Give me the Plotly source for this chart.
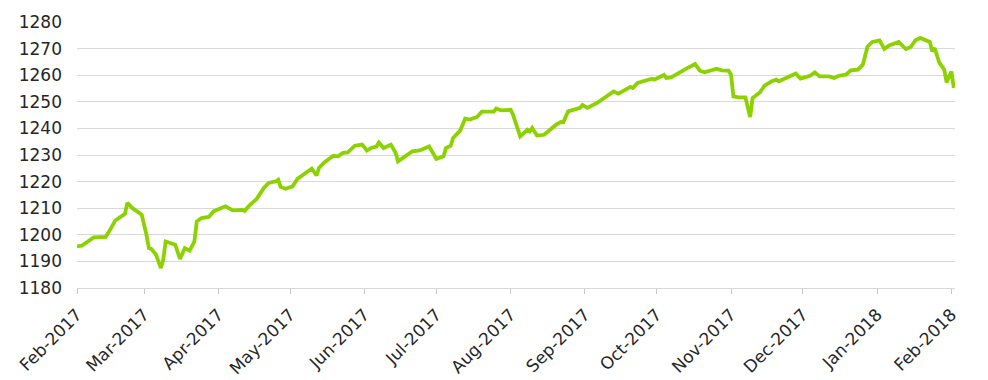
import plotly.graph_objects as go

dates = [
    "2017-02-01", "2017-02-03", "2017-02-08", "2017-02-13", "2017-02-15", "2017-02-17",
    "2017-02-21", "2017-02-22", "2017-02-24", "2017-02-28", "2017-03-02", "2017-03-03",
    "2017-03-04", "2017-03-06", "2017-03-08", "2017-03-09", "2017-03-10", "2017-03-14",
    "2017-03-16", "2017-03-18", "2017-03-20", "2017-03-22", "2017-03-23", "2017-03-25",
    "2017-03-28", "2017-03-30", "2017-03-31", "2017-04-02", "2017-04-04", "2017-04-07",
    "2017-04-11", "2017-04-12", "2017-04-14", "2017-04-17", "2017-04-20", "2017-04-22",
    "2017-04-25", "2017-04-26", "2017-04-27", "2017-04-29", "2017-05-02", "2017-05-04",
    "2017-05-10", "2017-05-12", "2017-05-13", "2017-05-15", "2017-05-19", "2017-05-21",
    "2017-05-23", "2017-05-25", "2017-05-28", "2017-05-31", "2017-06-02", "2017-06-04",
    "2017-06-06", "2017-06-07", "2017-06-09", "2017-06-12", "2017-06-14", "2017-06-15",
    "2017-06-18", "2017-06-21", "2017-06-24", "2017-06-28", "2017-07-01", "2017-07-04",
    "2017-07-05", "2017-07-07", "2017-07-08", "2017-07-11", "2017-07-13", "2017-07-15",
    "2017-07-18", "2017-07-20", "2017-07-25", "2017-07-26", "2017-07-28", "2017-08-01",
    "2017-08-02", "2017-08-04", "2017-08-05", "2017-08-08", "2017-08-09", "2017-08-10",
    "2017-08-12", "2017-08-15", "2017-08-18", "2017-08-20", "2017-08-22", "2017-08-23",
    "2017-08-25", "2017-08-28", "2017-08-30", "2017-08-31", "2017-09-02", "2017-09-06",
    "2017-09-08", "2017-09-11", "2017-09-13", "2017-09-15", "2017-09-18", "2017-09-20",
    "2017-09-21", "2017-09-23", "2017-09-29", "2017-09-30", "2017-10-04", "2017-10-05",
    "2017-10-07", "2017-10-12", "2017-10-13", "2017-10-17", "2017-10-19", "2017-10-21",
    "2017-10-26", "2017-10-28", "2017-10-31", "2017-11-01", "2017-11-02", "2017-11-04",
    "2017-11-07", "2017-11-09", "2017-11-10", "2017-11-13", "2017-11-15", "2017-11-18",
    "2017-11-20", "2017-11-21", "2017-11-24", "2017-11-28", "2017-11-30", "2017-12-04",
    "2017-12-06", "2017-12-08", "2017-12-12", "2017-12-14", "2017-12-16", "2017-12-19",
    "2017-12-21", "2017-12-24", "2017-12-26", "2017-12-28", "2017-12-30", "2018-01-02",
    "2018-01-04", "2018-01-06", "2018-01-10", "2018-01-13", "2018-01-15", "2018-01-17",
    "2018-01-19", "2018-01-23", "2018-01-24", "2018-01-25", "2018-01-27", "2018-01-29",
    "2018-01-30", "2018-02-01", "2018-02-02",
]

values = [
    1195.6, 1195.9, 1199.0, 1199.2, 1202.2, 1205.4,
    1207.9, 1212.0, 1210.1, 1207.6, 1200.0, 1195.0,
    1194.7, 1192.5, 1187.5, 1190.6, 1197.5, 1196.3,
    1190.9, 1195.0, 1194.0, 1197.5, 1205.0, 1206.3,
    1206.7, 1208.8, 1209.2, 1210.1, 1210.7, 1209.2,
    1209.4, 1209.0, 1211.1, 1213.5, 1217.6, 1219.5,
    1220.1, 1220.7, 1218.0, 1217.3, 1218.2, 1221.0,
    1224.9, 1222.3, 1225.1, 1227.0, 1229.7, 1229.5,
    1230.8, 1231.0, 1233.5, 1233.9, 1231.7, 1232.75,
    1233.2, 1234.7, 1232.6, 1233.9, 1230.8, 1227.6,
    1229.7, 1231.4, 1231.7, 1233.2, 1228.5, 1229.5,
    1232.6, 1233.5, 1236.4, 1239.25, 1243.65, 1243.3,
    1244.3, 1246.3, 1246.3, 1247.5, 1246.8, 1247.0,
    1245.15, 1238.9, 1237.0, 1239.5, 1238.9, 1240.15,
    1237.3, 1237.6, 1239.8, 1241.4, 1242.4, 1242.3,
    1246.4, 1247.3, 1247.7, 1248.8, 1247.7, 1249.55,
    1250.8, 1252.3, 1253.9, 1253.05, 1254.8, 1255.6,
    1255.2, 1257.1, 1258.7, 1258.3, 1260.1, 1258.95,
    1259.2, 1262.1, 1262.3, 1264.2, 1261.7, 1261.1,
    1262.45, 1261.8, 1261.7, 1260.2, 1252.0, 1251.7,
    1251.7, 1244.3, 1251.4, 1253.5, 1256.1, 1257.7,
    1258.3, 1257.7, 1258.95, 1260.6, 1258.7, 1259.8,
    1261.05, 1259.55, 1259.55, 1258.95, 1259.8, 1260.2,
    1261.8, 1262.1, 1263.95, 1270.8, 1272.5, 1273.1,
    1269.85, 1271.2, 1272.5, 1269.85, 1270.6, 1273.1,
    1274.0, 1272.5, 1268.95, 1270.2, 1264.6, 1262.1,
    1257.3, 1261.4, 1255.2,
]

tick_dates = [
    "2017-02-01", "2017-03-01", "2017-04-01", "2017-05-01", "2017-06-01", "2017-07-01",
    "2017-08-01", "2017-09-01", "2017-10-01", "2017-11-01", "2017-12-01", "2018-01-01",
    "2018-02-01",
]
tick_labels = [
    "Feb-2017", "Mar-2017", "Apr-2017", "May-2017", "Jun-2017", "Jul-2017",
    "Aug-2017", "Sep-2017", "Oct-2017", "Nov-2017", "Dec-2017", "Jan-2018",
    "Feb-2018",
]
y_ticks = [1180, 1190, 1200, 1210, 1220, 1230, 1240, 1250, 1260, 1270, 1280]

fig = go.Figure()
fig.add_trace(go.Scatter(
    x=dates, y=values, mode="lines",
    line=dict(color="#8cd200", width=3.8, shape="linear"),
    showlegend=False,
))

font = dict(family="DejaVu Sans, sans-serif", size=17, color="#262626")

fig.update_layout(
    width=988, height=380,
    margin=dict(l=77, r=33, t=22, b=92, pad=0, autoexpand=False),
    paper_bgcolor="white", plot_bgcolor="white",
    font=font,
    xaxis=dict(
        type="date", automargin=False,
        range=["2017-02-01", "2018-02-02 12:00"],
        tickmode="array", tickvals=tick_dates, ticktext=tick_labels,
        tickangle=-45, tickfont=font,
        showgrid=False, zeroline=False,
        showline=True, linecolor="#d9d9d9", linewidth=1,
        ticks="outside", ticklen=5, tickcolor="#c8c8c8", tickwidth=1,
        ticklabelstandoff=4,
    ),
    yaxis=dict(
        range=[1180, 1280], automargin=False,
        tickmode="array", tickvals=y_ticks,
        tickfont=font,
        showgrid=True, gridcolor="#d9d9d9", gridwidth=1,
        zeroline=False, showline=False, ticks="",
        ticklabelstandoff=14,
    ),
)

fig.write_html("out.html")
